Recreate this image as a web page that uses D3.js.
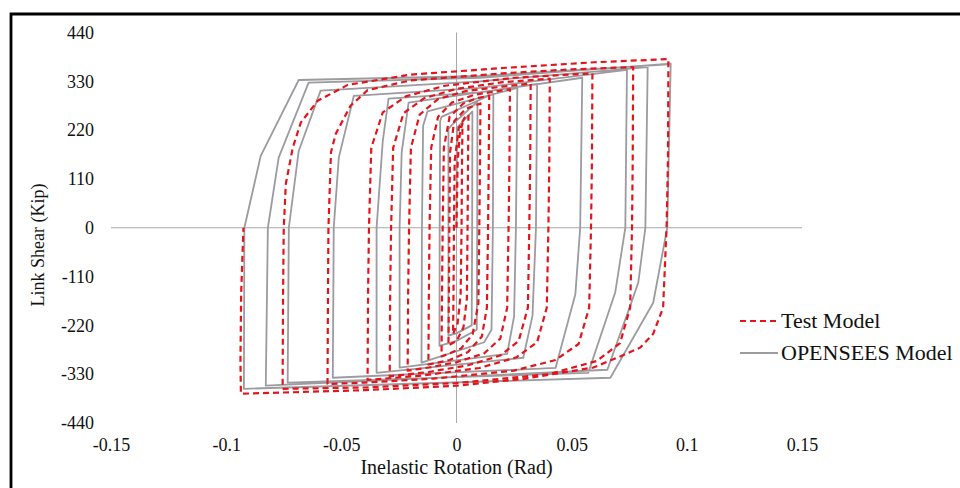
<!DOCTYPE html>
<html><head><meta charset="utf-8">
<script src="https://cdn.jsdelivr.net/npm/d3@7"></script>
<style>html,body{margin:0;padding:0;background:#fff;} svg{display:block;}</style>
</head><body>
<svg id="chart" width="960" height="488"></svg>
<script>
const xTicks = [-0.15, -0.1, -0.05, 0, 0.05, 0.1, 0.15];
const yTicks = [440, 330, 220, 110, 0, -110, -220, -330, -440];
const seriesNames = ["Test Model", "OPENSEES Model"];
const xTitle = "Inelastic Rotation (Rad)";
const yTitle = "Link Shear (Kip)";

// Test Model: [inelastic rotation (rad), link shear (kip)]
const testPath = [
  [0, 0], [0.0005, 150], [0.0015, 215], [0.0026, 235],
  [0.0024, 150], [0.0022, 0], [0.0018, -150], [0.0005, -215], [-0.0015, -240],
  [-0.0013, -150], [-0.0011, 0], [-0.0008, 150], [0.001, 225], [0.0035, 248], [0.0052, 255],
  [0.005, 150], [0.0048, 0], [0.0045, -160], [0.003, -225], [0.0, -255], [-0.0035, -265],
  [-0.0033, -150], [-0.0031, 0], [-0.0028, 170], [-0.001, 240], [0.004, 268], [0.0104, 280],
  [0.0102, 150], [0.0099, 0], [0.0095, -170], [0.007, -240], [0.002, -272], [-0.003, -283], [-0.0065, -290],
  [-0.0063, -150], [-0.006, 0], [-0.0055, 180], [-0.003, 250], [0.003, 280], [0.009, 292], [0.0142, 298],
  [0.014, 150], [0.0137, 0], [0.0132, -180], [0.011, -245], [0.005, -280], [-0.003, -298], [-0.009, -305], [-0.0122, -308],
  [-0.012, -150], [-0.0117, 0], [-0.011, 180], [-0.008, 250], [-0.002, 282], [0.008, 300], [0.018, 308], [0.0232, 312],
  [0.023, 150], [0.0226, 0], [0.022, -180], [0.019, -250], [0.012, -283], [0.0, -303], [-0.012, -315], [-0.0212, -322],
  [-0.021, -150], [-0.0206, 0], [-0.0198, 180], [-0.016, 255], [-0.008, 290], [0.004, 308], [0.02, 318], [0.0322, 325],
  [0.032, 150], [0.0316, 0], [0.031, -180], [0.027, -255], [0.019, -288], [0.005, -310], [-0.012, -325], [-0.029, -335],
  [-0.0288, -150], [-0.0284, 0], [-0.0275, 180], [-0.023, 258], [-0.014, 292], [0.0, 313], [0.02, 328], [0.0405, 336],
  [0.0403, 150], [0.0399, 0], [0.0392, -180], [0.035, -258], [0.026, -292], [0.01, -316], [-0.015, -333], [-0.0386, -343],
  [-0.0384, -150], [-0.038, 0], [-0.037, 180], [-0.032, 260], [-0.022, 296], [-0.005, 320], [0.025, 338], [0.059, 348],
  [0.0588, 150], [0.0584, 0], [0.0576, -180], [0.053, -262], [0.043, -298], [0.025, -322], [-0.01, -340], [-0.04, -349], [-0.056, -352],
  [-0.0558, -150], [-0.0556, 0], [-0.0545, 170], [-0.0524, 212], [-0.046, 275], [-0.0386, 310], [-0.02, 332], [0.02, 348], [0.05, 357], [0.0767, 362],
  [0.0765, 150], [0.0762, 0], [0.0754, -180], [0.071, -260], [0.061, -300], [0.04, -330], [0.0, -350], [-0.04, -360], [-0.0755, -363],
  [-0.0753, -150], [-0.075, 0], [-0.0741, 99], [-0.0711, 180], [-0.0676, 237], [-0.0603, 286], [-0.0472, 322], [-0.02, 345], [0.02, 360], [0.06, 373], [0.092, 380],
  [0.0918, 150], [0.0912, 0], [0.0897, -180], [0.0854, -239], [0.0798, -270], [0.0711, -290], [0.0594, -315], [0.03, -340], [0.0, -356], [-0.04, -366], [-0.08, -372], [-0.0936, -374],
  [-0.0938, -300], [-0.0935, -150], [-0.0925, 0]
];

// OPENSEES Model: [inelastic rotation (rad), link shear (kip)]
const openseesPath = [
  [0, 0], [0.0002, 225], [0.0069, 262],
  [0.0068, 0], [0.0066, -220], [0.0, -238], [-0.0035, -243],
  [-0.0035, 0], [-0.0035, 222], [-0.002, 232], [0.0091, 284],
  [0.009, 0], [0.0088, -230], [0.0, -255], [-0.0074, -266],
  [-0.0073, 0], [-0.0071, 240], [-0.0065, 250], [0.016, 302],
  [0.0158, 0], [0.0152, -230], [0.012, -258], [-0.0152, -304],
  [-0.015, 0], [-0.0145, 230], [-0.0126, 262], [0.0264, 315],
  [0.0258, 0], [0.025, -200], [0.022, -284], [-0.0247, -315],
  [-0.0247, 0], [-0.0238, 170], [-0.0208, 282], [0.035, 324],
  [0.0345, 0], [0.033, -198], [0.029, -293], [-0.0347, -327],
  [-0.0347, 0], [-0.032, 196], [-0.0295, 291], [0.01, 305], [0.0546, 338],
  [0.0537, 0], [0.0516, -150], [0.043, -316], [-0.0537, -338],
  [-0.0533, 0], [-0.0511, 158], [-0.0446, 297], [0.01, 315], [0.074, 356],
  [0.0733, 0], [0.0689, -146], [0.0572, -327], [-0.0733, -349],
  [-0.0728, 0], [-0.0685, 173], [-0.059, 309], [0.01, 330], [0.083, 362],
  [0.082, 0], [0.0789, -124], [0.0754, -176], [0.0655, -320], [-0.0828, -356],
  [-0.0819, 0], [-0.0772, 158], [-0.0642, 327], [0.01, 338], [0.093, 370],
  [0.0915, 0], [0.0854, -169], [0.0668, -338], [-0.0923, -363],
  [-0.0921, 0], [-0.085, 162], [-0.0685, 333], [0.01, 342], [0.092, 368]
];

const RED = "#e3141c";
const GRAY = "#9b9ba0";
const FONT = "'Liberation Serif', 'Times New Roman', serif";

const svg = d3.select("#chart");
const x = d3.scaleLinear().domain([-0.15, 0.15]).range([111, 802]);
const y = d3.scaleLinear().domain([-440, 440]).range([423, 32.5]);

// frame
svg.append("path").attr("d", "M11,490 V14 H962")
  .attr("fill", "none").attr("stroke", "#000").attr("stroke-width", 2.8);

// zero axes
svg.append("line").attr("x1", x(-0.15)).attr("x2", x(0.15)).attr("y1", y(0)).attr("y2", y(0))
  .attr("stroke", "#a8a8a8").attr("stroke-width", 1);
svg.append("line").attr("x1", x(0)).attr("x2", x(0)).attr("y1", y(440)).attr("y2", y(-440))
  .attr("stroke", "#a8a8a8").attr("stroke-width", 1);

// y axis labels
const yAx = svg.append("g").attr("transform", "translate(97,0)")
  .call(d3.axisLeft(y).tickValues(yTicks).tickSize(0).tickPadding(3).tickFormat(d => String(d)));
yAx.attr("font-family", FONT);
yAx.select(".domain").remove();
yAx.selectAll("text").attr("font-family", FONT).attr("font-size", 18).attr("fill", "#111");

// x axis labels
const xAx = svg.append("g").attr("transform", "translate(0,438)")
  .call(d3.axisBottom(x).tickValues(xTicks).tickSize(0).tickPadding(0).tickFormat(d => String(d)));
xAx.attr("font-family", FONT);
xAx.select(".domain").remove();
xAx.selectAll("text").attr("font-family", FONT).attr("font-size", 18).attr("fill", "#111");

// titles
svg.append("text").attr("x", x(0)).attr("y", 474).attr("text-anchor", "middle")
  .attr("font-family", FONT).attr("font-size", 20).attr("fill", "#111").text(xTitle);
svg.append("text").attr("transform", "translate(44,245) rotate(-90)").attr("text-anchor", "middle")
  .attr("font-family", FONT).attr("font-size", 18).attr("fill", "#111").text(yTitle);

const line = d3.line().x(d => x(d[0])).y(d => y(d[1]));

svg.append("path").datum(openseesPath).attr("d", line)
  .attr("fill", "none").attr("stroke", GRAY).attr("stroke-width", 1.8).attr("stroke-linejoin", "round");
svg.append("path").datum(testPath).attr("d", line)
  .attr("fill", "none").attr("stroke", RED).attr("stroke-width", 2.2).attr("stroke-linejoin", "round")
  .attr("stroke-dasharray", "6,4");

// legend
const leg = svg.append("g");
const legItems = [
  {name: seriesNames[0], color: RED, dash: "6,4", w: 2.2, yy: 321},
  {name: seriesNames[1], color: GRAY, dash: null, w: 1.8, yy: 353}
];
legItems.forEach(it => {
  leg.append("line").attr("x1", 740).attr("x2", 778).attr("y1", it.yy).attr("y2", it.yy)
    .attr("stroke", it.color).attr("stroke-width", it.w).attr("stroke-dasharray", it.dash);
  leg.append("text").attr("x", 781).attr("y", it.yy + 7).attr("font-family", FONT)
    .attr("font-size", 22).attr("fill", "#111").text(it.name);
});
</script>
</body></html>
